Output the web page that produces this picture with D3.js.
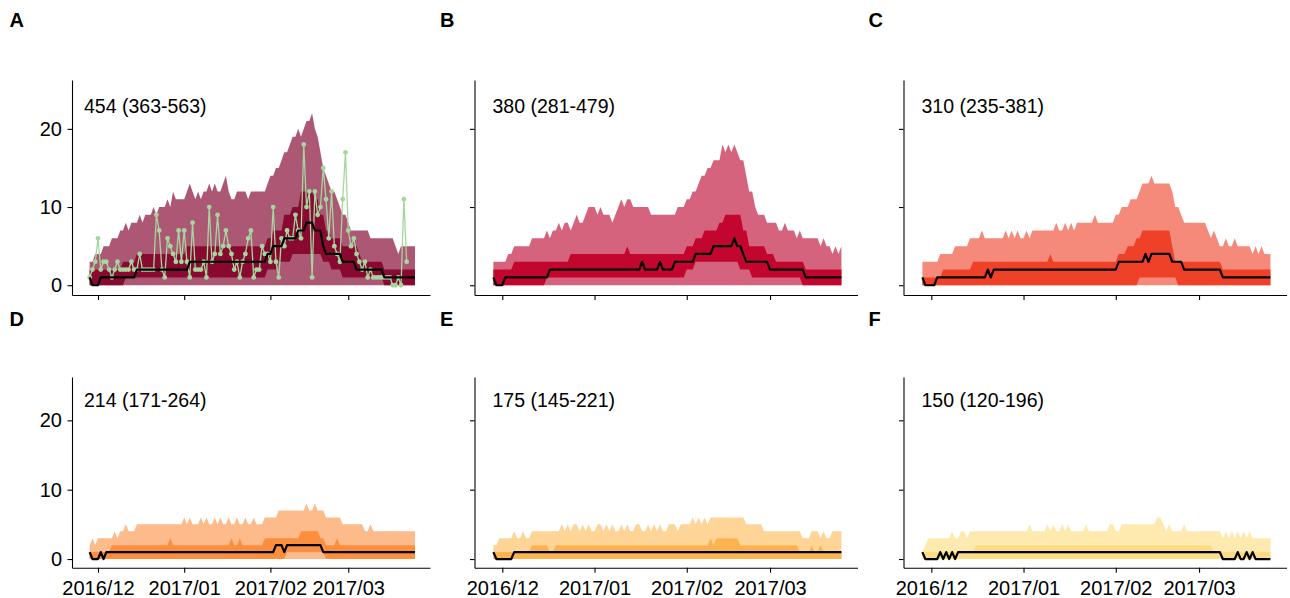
<!DOCTYPE html>
<html><head><meta charset="utf-8">
<script src="https://cdn.jsdelivr.net/npm/d3@7"></script>
<style>
body{margin:0;background:#fff}
svg{display:block}
text{font-family:"Liberation Sans",Arial,Helvetica,sans-serif}
</style>
</head><body>
<svg id="chart" width="1290" height="598"></svg>
<script>
// ---------- data ----------
const startDate = new Date(2016, 10, 28);          // first day of the series (day 0)
const panelLabels = ["A", "B", "C", "D", "E", "F"];
const estimates = ["454 (363-563)", "380 (281-479)", "310 (235-381)", "214 (171-264)", "175 (145-221)", "150 (120-196)"];
const tickDates = [new Date(2016, 11, 1), new Date(2017, 0, 1), new Date(2017, 1, 1), new Date(2017, 2, 1)];
const yTicks = [0, 10, 20];

// Panel A
const outerA = [3,3,4,4,4,5,5,5,6,6, 6,7,7,8,7,8,8,8,9,8, 9,9,9,10,9,10,10,10,11,10, 12,11,11,11,11,12,13,12,11,12,
  11,12,12,13,12,13,12,12,13,14, 12,11,11,12,12,12,12,11,12,12, 12,12,12,12,13,14,14,15,15,16, 17,17,18,19,19,20,19,20,21,21,
  22,20,19,17,15,14,13,12,12,11, 10,9,9,8,7,7,7,7,7,7, 7,6,6,6,6,6,6,6,6,6, 5,4,5,5,5,5,5,5];
const upperA = [2,2,2,2,2,2,2,2,2,2, 2,2,3,3,3,3,3,4,4,4, 4,4,4,4,4,4,4,4,4,4, 4,4,4,4,4,5,5,5,5,5,
  5,5,5,5,5,5,5,5,5,5, 5,5,5,5,5,5,5,5,5,5, 5,5,5,5,6,6,7,7,7,7, 9,9,9,10,10,10,12,12,12,12,
  12,11,11,9,9,7,7,6,6,6, 6,5,5,5,5,5,5,4,3,3, 3,3,3,3,3,3,2,2,2,2, 2,2,2,2,2,2,2,2];
const lowerA = [0,0,0,0,0,0,0,0,0,0, 0,0,0,1,1,1,1,1,1,1, 1,1,1,1,1,1,1,1,1,1, 1,1,1,1,1,1,1,1,1,1,
  1,1,1,1,1,1,1,1,1,1, 1,1,1,1,1,1,1,1,1,1, 1,1,1,1,2,2,2,2,3,3, 3,3,3,4,4,4,4,4,4,4,
  4,4,4,4,3,3,3,2,2,2, 2,1,1,1,1,1,1,1,1,1, 1,1,1,1,1,1,0,0,0,0, 0,0,0,0,0,0,0,0];
const medianA = [1,0,0,0,1,1,1,1,1,1, 1,1,1,1,1,1,1,2,2,2, 2,2,2,2,2,2,2,2,2,2, 2,2,2,2,2,2,3,3,3,3,
  3,3,3,3,3,3,3,3,3,3, 3,3,3,3,3,3,3,3,3,3, 3,3,3,3,4,4,5,5,5,5, 6,6,6,6,6,7,7,7,8,8,
  8,7,7,7,5,4,4,4,4,4, 4,3,3,3,3,3,2,2,2,2, 2,2,2,2,2,2,1,1,1,1, 1,1,1,1,1,1,1,1];
const observedA = [1,2,3,6,2,3,3,2,1,2, 3,2,2,2,2,3,2,2,4,2, 2,2,2,2,9,7,2,1,6,5, 4,3,7,3,7,3,1,8,2,2,
  2,3,1,10,3,4,9,4,5,7, 5,4,2,3,1,3,4,6,7,1, 2,2,5,4,4,3,10,3,1,6, 5,7,6,6,9,7,6,18,10,12,
  1,12,9,10,15,11,6,12,5,4, 3,11,17,7,5,6,4,3,2,3, 1,2,1,1,1,1,1,1,1,0, 0,1,0,11,3];

// Panel B
const outerB = [3,3,3,3,3,4,4,5,5,5, 5,5,5,6,6,6,6,6,7,6, 7,7,8,7,8,8,7,8,9,8, 8,9,10,10,10,9,10,9,9,9,
  8,9,10,11,10,11,11,10,10,10, 10,10,10,9,9,9,9,9,9,9, 9,9,10,10,10,11,11,12,12,13, 14,14,15,15,16,16,16,18,17,18,
  17,18,17,16,16,14,12,12,10,9, 9,9,8,8,8,8,7,7,8,7, 7,7,6,7,6,6,6,6,6,6, 5,6,5,5,4,5,4,5];
const upperB = [2,2,2,2,2,2,2,3,3,3, 3,3,3,3,3,3,3,3,3,3, 3,3,3,3,3,3,4,4,4,4, 4,4,4,4,4,4,4,4,4,4,
  4,4,4,4,4,5,4,4,4,4, 4,4,4,4,4,4,4,4,4,4, 4,4,4,4,4,5,5,5,6,6, 6,7,7,7,7,7,8,8,9,9,
  9,9,9,9,7,7,5,5,5,5, 5,5,4,4,4,3,3,3,3,3, 3,3,3,3,3,2,2,2,2,2, 2,2,2,2,2,2,2,2];
const lowerB = [0,0,0,0,0,0,0,0,0,0, 0,0,0,0,0,0,0,0,1,1, 1,1,1,1,1,1,1,1,1,1, 1,1,1,1,1,1,1,1,1,1,
  1,1,1,1,1,1,1,1,1,1, 1,1,1,1,1,1,1,1,1,1, 1,1,1,1,1,2,2,2,3,3, 3,3,3,3,3,3,3,3,3,3,
  3,3,3,2,2,2,2,1,1,1, 1,1,1,1,1,1,1,1,1,1, 1,1,1,1,0,0,0,0,0,0, 0,0,0,0,0,0,0,0];
const medianB = [1,0,0,0,1,1,1,1,1,1, 1,1,1,1,1,1,1,1,1,2, 2,2,2,2,2,2,2,2,2,2, 2,2,2,2,2,2,2,2,2,2,
  2,2,2,2,2,2,2,2,2,2, 3,2,2,2,2,2,3,2,2,2, 2,3,3,3,3,3,3,3,4,4, 4,4,4,4,5,5,5,5,5,5,
  5,6,5,5,4,3,3,3,3,3, 3,3,3,2,2,2,2,2,2,2, 2,2,2,2,2,1,1,1,1,1, 1,1,1,1,1,1,1,1];

// Panel C
const outerC = [3,3,3,3,3,3,4,4,4,4, 4,5,5,5,5,5,6,6,6,6, 7,6,6,6,6,6,6,6,7,6, 7,6,7,6,6,7,6,7,7,7,
  7,7,7,7,7,8,7,7,8,7, 8,7,8,8,8,8,8,8,9,8, 8,8,8,8,8,9,9,10,10,10, 11,11,11,12,13,13,13,14,13,13,
  13,13,13,13,12,10,10,9,8,8, 8,8,8,8,8,8,7,6,7,6, 5,5,6,5,5,6,5,5,5,5, 5,4,5,4,5,4,4,4];
const upperC = [1,1,1,1,1,1,1,2,2,2, 2,2,2,2,2,2,2,3,3,3, 3,3,3,3,3,3,3,3,3,3, 3,3,3,3,3,3,3,3,3,3,
  3,3,3,4,3,3,3,3,3,3, 3,3,3,3,3,3,3,3,3,3, 3,3,3,3,3,3,4,4,4,5, 5,5,6,6,7,7,7,7,7,7,
  7,7,7,7,5,3,3,3,3,3, 3,3,3,3,3,3,3,3,3,3, 3,2,2,2,2,2,2,2,2,2, 2,2,2,2,2,2,2,2];
const lowerC = [0,0,0,0,0,0,0,0,0,0, 0,0,0,0,0,0,0,0,0,0, 0,0,0,0,0,0,0,0,0,0, 0,0,0,0,0,0,0,0,0,0,
  0,0,0,0,0,0,0,0,0,0, 0,0,0,0,0,0,0,0,0,0, 0,0,0,0,0,0,0,0,0,0, 0,0,0,1,1,1,1,1,1,1,
  1,1,1,1,1,1,0,0,0,0, 0,0,0,0,0,0,0,0,0,0, 0,0,0,0,0,0,0,0,0,0, 0,0,0,0,0,0,0,0];
const medianC = [1,0,0,0,0,1,1,1,1,1, 1,1,1,1,1,1,1,1,1,1, 1,1,2,1,2,2,2,2,2,2, 2,2,2,2,2,2,2,2,2,2,
  2,2,2,2,2,2,2,2,2,2, 2,2,2,2,2,2,2,2,2,2, 2,2,2,2,2,2,3,3,3,3, 3,3,3,3,3,4,3,4,4,4,
  4,4,4,4,3,3,3,3,2,2, 2,2,2,2,2,2,2,2,2,2, 2,1,1,1,1,1,1,1,1,1, 1,1,1,1,1,1,1,1];

// Panel D
const outerD = [2,3,2,3,3,3,3,3,3,4, 3,4,4,5,4,4,4,5,5,5, 5,5,5,5,5,5,5,5,5,5, 5,5,5,5,6,5,6,5,5,5,
  6,5,6,5,5,6,5,6,5,5, 6,5,5,6,5,5,6,5,5,6, 5,5,5,6,6,6,6,6,7,7, 7,7,7,7,7,7,7,7,8,7,
  7,8,7,7,7,6,6,6,6,6, 6,5,5,5,5,5,5,5,5,4, 4,5,4,4,4,4,4,4,4,4, 4,4,4,4,4,4,4,4];
const upperD = [1,1,1,1,1,1,1,1,2,2, 2,2,2,2,2,2,2,2,2,2, 2,2,2,2,2,2,2,2,2,3, 2,2,2,2,2,2,2,2,2,2,
  2,2,2,2,2,2,2,2,2,2, 2,3,2,2,3,2,2,2,2,2, 2,2,2,3,3,3,3,3,3,3, 3,3,3,3,3,3,4,4,4,4,
  4,4,4,3,3,2,2,2,2,3, 2,2,2,2,2,2,2,2,2,2, 2,2,2,2,2,2,2,2,2,2, 2,2,2,2,2,2,2,2];
const lowerD = [0,0,0,0,0,0,0,0,0,0, 0,0,0,0,0,0,0,0,0,0, 0,0,0,0,0,0,0,0,0,0, 0,0,0,0,0,0,0,0,0,0,
  0,0,0,0,0,0,0,0,0,0, 0,0,0,0,0,0,0,0,0,0, 0,0,0,0,0,0,0,0,0,0, 0,1,1,1,1,1,1,1,1,1,
  1,1,1,1,1,0,0,0,0,0, 0,0,0,0,0,0,0,0,0,0, 0,0,0,0,0,0,0,0,0,0, 0,0,0,0,0,0,0,0];
const medianD = [1,0,0,0,1,0,1,1,1,1, 1,1,1,1,1,1,1,1,1,1, 1,1,1,1,1,1,1,1,1,1, 1,1,1,1,1,1,1,1,1,1,
  1,1,1,1,1,1,1,1,1,1, 1,1,1,1,1,1,1,1,1,1, 1,1,1,1,1,1,1,2,2,2, 1,2,2,2,2,2,2,2,2,2,
  2,2,2,2,1,1,1,1,1,1, 1,1,1,1,1,1,1,1,1,1, 1,1,1,1,1,1,1,1,1,1, 1,1,1,1,1,1,1,1];

// Panel E
const outerE = [2,2,3,3,3,3,3,4,3,3, 4,3,3,4,4,4,4,4,4,4, 4,4,4,5,4,5,4,5,5,4, 5,4,5,4,4,5,5,4,5,4,
  5,4,4,5,4,5,4,4,5,5, 4,4,5,4,5,4,5,4,4,5, 5,5,4,5,5,5,5,6,5,6, 5,6,5,6,6,6,6,6,6,6,
  6,6,6,6,6,5,5,5,5,5, 5,4,4,4,4,4,4,4,4,4, 4,4,4,4,3,3,3,4,4,4, 3,4,3,3,4,4,4,4];
const upperE = [1,1,1,1,1,1,1,1,1,1, 1,1,1,2,2,2,2,2,2,1, 1,2,2,2,2,2,2,2,2,2, 2,2,2,2,2,2,2,2,2,2,
  2,2,2,2,2,2,2,2,2,2, 2,2,2,2,2,2,2,2,2,2, 2,2,2,2,2,2,2,2,2,2, 2,2,2,3,2,3,3,3,3,3,
  3,3,3,2,2,2,2,2,2,2, 2,2,2,2,2,2,2,2,2,2, 2,2,2,1,1,1,1,2,1,1, 2,1,1,1,1,1,1,1];
const lowerE = [0,0,0,0,0,0,0,0,0,0, 0,0,0,0,0,0,0,0,0,0, 0,0,0,0,0,0,0,0,0,0, 0,0,0,0,0,0,0,0,0,0,
  0,0,0,0,0,0,0,0,0,0, 0,0,0,0,0,0,0,0,0,0, 0,0,0,0,0,0,0,0,0,0, 0,0,0,0,0,0,0,0,0,0,
  0,0,0,0,0,0,0,0,0,0, 0,0,0,0,0,0,0,0,0,0, 0,0,0,0,0,0,0,0,0,0, 0,0,0,0,0,0,0,0];
const medianE = [1,0,0,0,0,0,0,1,1,1, 1,1,1,1,1,1,1,1,1,1, 1,1,1,1,1,1,1,1,1,1, 1,1,1,1,1,1,1,1,1,1,
  1,1,1,1,1,1,1,1,1,1, 1,1,1,1,1,1,1,1,1,1, 1,1,1,1,1,1,1,1,1,1, 1,1,1,1,1,1,1,1,1,1,
  1,1,1,1,1,1,1,1,1,1, 1,1,1,1,1,1,1,1,1,1, 1,1,1,1,1,1,1,1,1,1, 1,1,1,1,1,1,1,1];

// Panel F
const outerF = [1,2,3,3,3,3,3,3,3,3, 4,3,3,4,4,3,4,4,4,4, 4,4,4,4,4,4,4,4,4,4, 4,4,4,4,4,4,5,4,4,4,
  4,4,5,4,5,4,4,5,4,5, 4,4,4,4,4,5,4,4,4,4, 4,4,4,5,5,4,4,5,5,5, 5,5,5,5,5,5,5,5,5,6,
  6,5,4,5,4,4,4,4,5,4, 4,4,4,4,4,4,4,4,4,4, 4,3,4,3,4,3,4,3,4,3, 4,3,3,3,3,3,3,3];
const upperF = [1,1,1,1,1,1,1,1,1,1, 1,1,1,1,1,1,1,1,2,2, 2,2,2,2,2,2,2,2,2,2, 2,2,2,2,2,2,2,2,2,2,
  2,2,2,2,2,2,2,2,2,2, 2,2,2,2,2,2,2,2,2,2, 2,2,2,2,2,2,2,2,2,2, 2,2,2,2,2,2,2,2,2,2,
  2,2,2,2,2,2,2,2,2,2, 2,2,2,2,2,2,2,2,1,1, 1,1,1,1,1,1,1,1,1,1, 1,1,1,1,1,1,1,1];
const lowerF = [0,0,0,0,0,0,0,0,0,0, 0,0,0,0,0,0,0,0,0,0, 0,0,0,0,0,0,0,0,0,0, 0,0,0,0,0,0,0,0,0,0,
  0,0,0,0,0,0,0,0,0,0, 0,0,0,0,0,0,0,0,0,0, 0,0,0,0,0,0,0,0,0,0, 0,0,0,0,0,0,0,0,0,0,
  0,0,0,0,0,0,0,0,0,0, 0,0,0,0,0,0,0,0,0,0, 0,0,0,0,0,0,0,0,0,0, 0,0,0,0,0,0,0,0];
const medianF = [1,0,0,0,0,0,1,0,1,0, 1,0,1,1,1,1,1,1,1,1, 1,1,1,1,1,1,1,1,1,1, 1,1,1,1,1,1,1,1,1,1,
  1,1,1,1,1,1,1,1,1,1, 1,1,1,1,1,1,1,1,1,1, 1,1,1,1,1,1,1,1,1,1, 1,1,1,1,1,1,1,1,1,1,
  1,1,1,1,1,1,1,1,1,1, 1,1,1,1,1,1,1,1,1,1, 1,0,0,0,0,0,1,0,0,1, 0,1,0,0,0,0,0,0];

// ---------- styles / layout ----------
const outerColors = ["#AC5874", "#D6637D", "#F58A7B", "#FDBA8B", "#FED497", "#FEE9AE"];
const innerColors = ["#890A30", "#C2062E", "#EE4128", "#FC8E3E", "#FDB450", "#FDDC86"];
const obsColor = "#A6D69E";
const cols = [[72, 430], [474.5, 857.5], [903.5, 1286.5]];
const rows = [[80, 295], [377, 567.7]];
const textOffset = [12, 18, 18];
const labelX = [9.5, 440, 868.5];
const labelY = [27, 326];
const DAY = 864e5;

const panels = [
  {outer: outerA, upper: upperA, lower: lowerA, median: medianA, obs: observedA},
  {outer: outerB, upper: upperB, lower: lowerB, median: medianB},
  {outer: outerC, upper: upperC, lower: lowerC, median: medianC},
  {outer: outerD, upper: upperD, lower: lowerD, median: medianD},
  {outer: outerE, upper: upperE, lower: lowerE, median: medianE},
  {outer: outerF, upper: upperF, lower: lowerF, median: medianF}
];

const svg = d3.select("#chart");
const fmt = d3.timeFormat("%Y/%m");
const dateOf = i => d3.timeDay.offset(startDate, i);

panels.forEach((p, k) => {
  const r = Math.floor(k / 3), c = k % 3;
  const [x0, x1] = cols[c], [y0, y1] = rows[r];
  const x = d3.scaleTime()
    .domain([new Date(+startDate - 6.35 * DAY), new Date(+startDate + 122.4 * DAY)])
    .range([x0, x1]);
  const y = d3.scaleLinear().domain([-1.25, 26.25]).range([y1, y0]);
  const g = svg.append("g");

  const outerArea = d3.area().x((d, i) => x(dateOf(i))).y0(y(0)).y1(d => y(d));
  g.append("path").attr("d", outerArea(p.outer)).attr("fill", outerColors[k]);

  const innerArea = d3.area().x((d, i) => x(dateOf(i))).y0((d, i) => y(p.lower[i])).y1(d => y(d));
  g.append("path").attr("d", innerArea(p.upper)).attr("fill", innerColors[k]);

  if (p.obs) {
    const line = d3.line().x((d, i) => x(dateOf(i))).y(d => y(d));
    g.append("path").attr("d", line(p.obs)).attr("fill", "none")
      .attr("stroke", obsColor).attr("stroke-width", 1.3);
    g.selectAll("circle.obs").data(p.obs).enter().append("circle")
      .attr("class", "obs")
      .attr("cx", (d, i) => x(dateOf(i))).attr("cy", d => y(d)).attr("r", 2.4)
      .attr("fill", obsColor);
  }

  const mline = d3.line().x((d, i) => x(dateOf(i))).y(d => y(d));
  g.append("path").attr("d", mline(p.median)).attr("fill", "none")
    .attr("stroke", "#000").attr("stroke-width", 2.2).attr("stroke-linejoin", "round");

  // axes
  const xa = g.append("g").attr("transform", `translate(0,${y1})`)
    .call(d3.axisBottom(x).tickValues(tickDates).tickFormat(r === 1 ? fmt : () => "")
      .tickSize(5).tickSizeOuter(0).tickPadding(8));
  const ya = g.append("g").attr("transform", `translate(${x0},0)`)
    .call(d3.axisLeft(y).tickValues(yTicks).tickFormat(c === 0 ? d3.format("d") : () => "")
      .tickSize(4.5).tickSizeOuter(0).tickPadding(5.5));
  [xa, ya].forEach(a => {
    a.attr("font-size", null).attr("font-family", null);
    a.selectAll("path,line").attr("stroke", "#000").attr("stroke-width", 1.1);
    a.selectAll("text").attr("fill", "#000").style("font-size", "20px");
  });

  // estimate annotation
  g.append("text").attr("x", x0 + textOffset[c]).attr("y", y(22.9)).attr("dy", "0.36em")
    .style("font-size", "19.5px").attr("fill", "#000").text(estimates[k]);

  // panel label
  svg.append("text").attr("x", labelX[c]).attr("y", labelY[r])
    .style("font-size", "20px").style("font-weight", "bold").attr("fill", "#000")
    .text(panelLabels[k]);
});
</script>
</body></html>
